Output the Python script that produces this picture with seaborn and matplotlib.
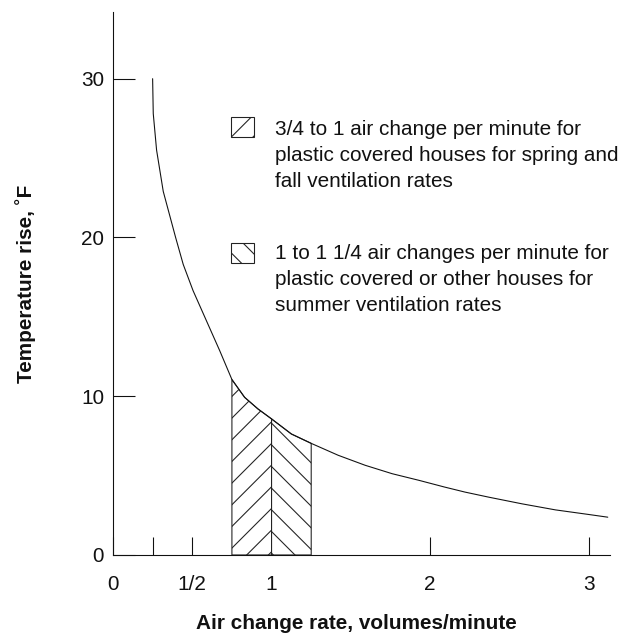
import numpy as np
import pandas as pd
import matplotlib
matplotlib.use("Agg")
import matplotlib.pyplot as plt
import seaborn as sns
from matplotlib.patches import Rectangle

# curve
rate = [0.25, 0.254, 0.275, 0.317, 0.395, 0.443, 0.505, 0.589, 0.673, 0.75,
        0.83, 0.914, 1.0, 1.125, 1.25, 1.42, 1.59, 1.76, 1.93, 2.09, 2.22,
        2.37, 2.58, 2.79, 3.0, 3.12]
temp_rise = [30.0, 27.8, 25.5, 22.9, 20.0, 18.3, 16.65, 14.76, 12.87, 11.05,
             9.93, 9.2, 8.57, 7.62, 7.03, 6.28, 5.65, 5.12, 4.70, 4.28, 3.96,
             3.64, 3.22, 2.84, 2.55, 2.38]

spring_band = (0.75, 1.0)
summer_band = (1.0, 1.25)

x_ticks = [0, 0.25, 0.5, 1, 2, 3]
x_ticklabels = ["0", "", "1/2", "1", "2", "3"]
y_ticks = [0, 10, 20, 30]

legend_labels = [
    "3/4 to 1 air change per minute for\nplastic covered houses for spring and\nfall ventilation rates",
    "1 to 1 1/4 air changes per minute for\nplastic covered or other houses for\nsummer ventilation rates",
]

df = pd.DataFrame({"rate": rate, "rise": temp_rise})

sns.set_theme(style="ticks")
plt.rcParams["font.family"] = ["Liberation Sans", "DejaVu Sans"]
plt.rcParams["hatch.linewidth"] = 0.6
plt.rcParams["hatch.color"] = "black"

DPI = 130
fig = plt.figure(figsize=(639 / DPI, 639 / DPI), dpi=DPI)
ax = fig.add_axes([0.1768, 0.1315, 0.7778, 0.8497])

FS = 11.5

# hatched bands under the curve
for band, hatch in [(spring_band, "//"), (summer_band, "\\\\")]:
    sub = df[(df["rate"] >= band[0]) & (df["rate"] <= band[1])]
    ax.fill_between(sub["rate"], 0, sub["rise"], facecolor="white",
                    edgecolor="#222222", hatch=hatch, linewidth=0.6)

sns.lineplot(data=df, x="rate", y="rise", ax=ax, color="#111111",
             linewidth=0.6, sort=False)

ax.set_xlim(0, 3.134)
ax.set_ylim(0, 34.2)
ax.set_xticks(x_ticks)
ax.set_xticklabels(x_ticklabels)
ax.set_yticks(y_ticks)
ax.tick_params(axis="x", direction="in", length=10, width=0.6, pad=11,
               labelsize=FS, colors="#111111")
ax.tick_params(axis="y", direction="in", length=12.2, width=0.6, pad=5,
               labelsize=FS, colors="#111111")
sns.despine(ax=ax)
for s in ["left", "bottom"]:
    ax.spines[s].set_linewidth(0.6)
    ax.spines[s].set_color("#111111")

ax.set_xlabel("Air change rate, volumes/minute", fontsize=FS,
              fontweight="bold", color="#111111")
ax.set_ylabel("Temperature rise, ˚F", fontsize=FS, fontweight="bold",
              color="#111111")
ax.xaxis.set_label_coords(0.489, -0.108)
ax.yaxis.set_label_coords(-0.155, 0.5)

# legend drawn by hand so the boxes sit next to the first line
box_x, box_w, box_h = 0.2374, 0.0463, 0.0368
for (box_y, text_top, hatch, label) in [(0.7698, 0.8005, "//", legend_labels[0]),
                                        (0.5378, 0.572, "\\\\", legend_labels[1])]:
    ax.add_patch(Rectangle((box_x, box_y), box_w, box_h,
                           transform=ax.transAxes, facecolor="white",
                           edgecolor="#222222", hatch=hatch, linewidth=0.6,
                           clip_on=False))
    ax.text(0.326, text_top, label, transform=ax.transAxes, fontsize=FS,
            va="top", ha="left", linespacing=1.44, color="#111111")

fig.savefig("out.png", dpi=DPI)
